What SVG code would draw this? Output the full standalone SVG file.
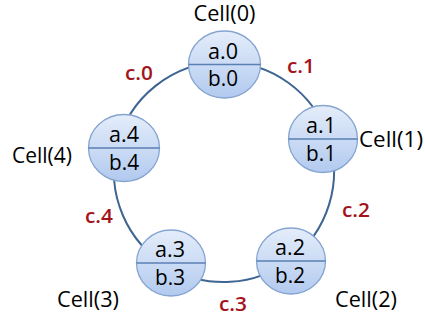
<svg xmlns="http://www.w3.org/2000/svg" width="425" height="322" viewBox="0 0 425 322">
<defs>
<linearGradient id="g" x1="0" y1="0" x2="0" y2="1">
<stop offset="0" stop-color="#e4edfa"/>
<stop offset="1" stop-color="#b2caef"/>
</linearGradient>
<style>
.ring{fill:none;stroke:#3f6592;stroke-width:2}
.node{fill:url(#g);stroke:#86a4d0;stroke-width:1.3}
.div{stroke:#5b7fb3;stroke-width:1.3}
.t{font-family:"Open Sans","Liberation Sans",sans-serif;font-size:21px;fill:#000;text-anchor:middle}
.cell{font-family:"Open Sans","Liberation Sans",sans-serif;font-size:21px;fill:#000;text-anchor:middle}
.c{font-family:"Open Sans","Liberation Sans",sans-serif;font-size:20px;fill:#a3141c;text-anchor:middle;font-weight:600}
</style>
</defs>
<rect width="425" height="322" fill="#fff"/>
<g id="connectors">
<path class="ring" d="M224,62 A110,110 0 0 1 328.4,137.3"/>
<path class="ring" d="M328.4,137.3 A110,110 0 0 1 290.4,259.7"/>
<path class="ring" d="M290.4,259.7 A110,110 0 0 1 168.2,266.8"/>
<path class="ring" d="M168.2,266.8 A110,110 0 0 1 117,146.3"/>
<path class="ring" d="M117,146.3 A110,110 0 0 1 224,62"/>
</g>
<g id="labels">
<text class="c" x="139" y="80" textLength="28" lengthAdjust="spacingAndGlyphs">c.0</text>
<text class="c" x="301" y="73" textLength="28" lengthAdjust="spacingAndGlyphs">c.1</text>
<text class="c" x="356" y="217" textLength="28" lengthAdjust="spacingAndGlyphs">c.2</text>
<text class="c" x="233" y="311" textLength="28" lengthAdjust="spacingAndGlyphs">c.3</text>
<text class="c" x="99" y="223" textLength="28" lengthAdjust="spacingAndGlyphs">c.4</text>
</g>
<g id="cell0">
<ellipse class="node" cx="224.5" cy="64.5" rx="36" ry="33.5"/>
<line class="div" x1="188.5" y1="64.5" x2="260.5" y2="64.5"/>
<text class="t" x="223" y="58.5" textLength="30" lengthAdjust="spacingAndGlyphs">a.0</text>
<text class="t" x="223" y="85.5" textLength="30" lengthAdjust="spacingAndGlyphs">b.0</text>
<text class="cell" x="224.5" y="21" textLength="62" lengthAdjust="spacingAndGlyphs">Cell(0)</text>
</g>
<g id="cell1">
<ellipse class="node" cx="323" cy="139" rx="34.5" ry="33.5"/>
<line class="div" x1="288.5" y1="139" x2="357.5" y2="139"/>
<text class="t" x="321" y="133" textLength="30" lengthAdjust="spacingAndGlyphs">a.1</text>
<text class="t" x="321" y="160.5" textLength="30" lengthAdjust="spacingAndGlyphs">b.1</text>
<text class="cell" x="391" y="147" textLength="64" lengthAdjust="spacingAndGlyphs">Cell(1)</text>
</g>
<g id="cell2">
<ellipse class="node" cx="291" cy="261" rx="34.5" ry="33"/>
<line class="div" x1="256.5" y1="261" x2="325.5" y2="261"/>
<text class="t" x="290" y="255" textLength="30" lengthAdjust="spacingAndGlyphs">a.2</text>
<text class="t" x="290" y="282.5" textLength="30" lengthAdjust="spacingAndGlyphs">b.2</text>
<text class="cell" x="366" y="307" textLength="62" lengthAdjust="spacingAndGlyphs">Cell(2)</text>
</g>
<g id="cell3">
<ellipse class="node" cx="171" cy="263" rx="34.5" ry="33"/>
<line class="div" x1="136.5" y1="263" x2="205.5" y2="263"/>
<text class="t" x="170" y="257" textLength="30" lengthAdjust="spacingAndGlyphs">a.3</text>
<text class="t" x="170" y="284.5" textLength="30" lengthAdjust="spacingAndGlyphs">b.3</text>
<text class="cell" x="88" y="307" textLength="62" lengthAdjust="spacingAndGlyphs">Cell(3)</text>
</g>
<g id="cell4">
<ellipse class="node" cx="124" cy="148" rx="35.5" ry="33.5"/>
<line class="div" x1="88.5" y1="148" x2="159.5" y2="148"/>
<text class="t" x="124" y="142" textLength="30" lengthAdjust="spacingAndGlyphs">a.4</text>
<text class="t" x="124" y="169.5" textLength="30" lengthAdjust="spacingAndGlyphs">b.4</text>
<text class="cell" x="42" y="163" textLength="60" lengthAdjust="spacingAndGlyphs">Cell(4)</text>
</g>
</svg>
